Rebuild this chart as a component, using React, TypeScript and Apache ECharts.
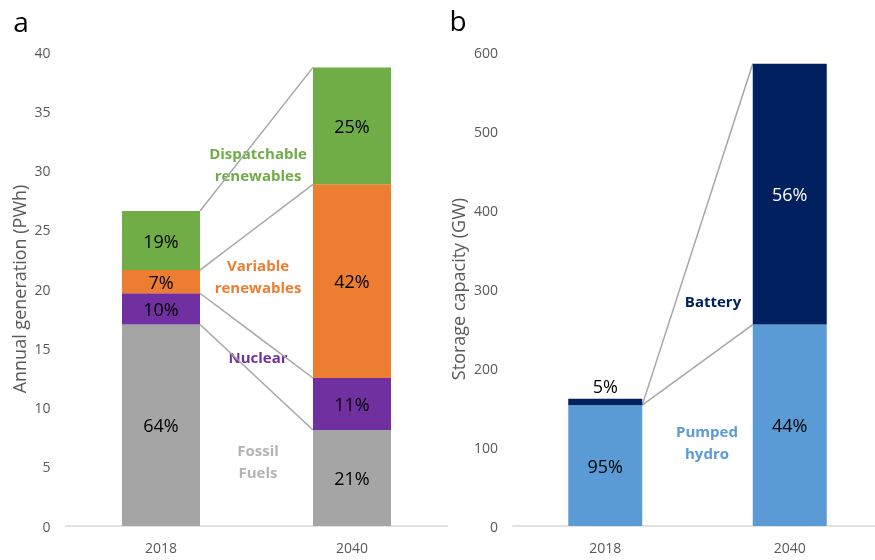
import React, { useEffect, useRef } from "react";
import * as echarts from "echarts";

const years = ["2018", "2040"];

// Panel a: annual generation (PWh)
const fossil = [17.0, 8.1];
const nuclear = [2.64, 4.39];
const variable = [1.96, 16.34];
const dispatchable = [4.98, 9.87];
const fossilPct = ["64%", "21%"];
const nuclearPct = ["10%", "11%"];
const variablePct = ["7%", "42%"];
const dispatchablePct = ["19%", "25%"];
const ticksA = [0, 5, 10, 15, 20, 25, 30, 35, 40];

// Panel b: storage capacity (GW)
const pumped = [153, 255];
const battery = [8, 330];
const pumpedPct = ["95%", "44%"];
const batteryPct = ["5%", "56%"];
const ticksB = [0, 100, 200, 300, 400, 500, 600];

const FONT = "'Open Sans', 'DejaVu Sans', sans-serif";
const BW_A = 78;
const BW_B = 74;

function cum(...arrs: number[][]) {
  return arrs[0].map((_, i) => arrs.reduce((s, a) => s + a[i], 0));
}

export default function App() {
  const ref = useRef<HTMLDivElement>(null);
  useEffect(() => {
    if (!ref.current) return;
    const chart = echarts.init(ref.current, undefined, { renderer: "svg" });

    const topFossil = cum(fossil);
    const topNuclear = cum(fossil, nuclear);
    const topVariable = cum(fossil, nuclear, variable);
    const topDisp = cum(fossil, nuclear, variable, dispatchable);
    const topPumped = cum(pumped);
    const topBattery = cum(pumped, battery);

    const connA = [
      [0, topDisp[0], topDisp[1]],
      [0, topVariable[0], topVariable[1]],
      [0, topNuclear[0], topNuclear[1]],
      [0, topFossil[0], topFossil[1]],
    ];
    const connB = [
      [0, topPumped[0], topBattery[1]],
      [0, topPumped[0], topPumped[1]],
    ];

    const mkConn = (data: number[][], idx: number, bw: number) => ({
      type: "custom",
      xAxisIndex: idx,
      yAxisIndex: idx,
      silent: true,
      z: 1,
      data,
      encode: { x: 0, y: [1, 2] },
      renderItem: (params: any, api: any) => {
        const p1 = api.coord([0, api.value(1)]);
        const p2 = api.coord([1, api.value(2)]);
        return {
          type: "line",
          shape: { x1: p1[0] + bw / 2, y1: p1[1], x2: p2[0] - bw / 2, y2: p2[1] },
          style: { stroke: "#A6A6A6", lineWidth: 1.5 },
        };
      },
    });

    const pctLabel = (arr: string[], color = "#000") => ({
      show: true,
      position: "inside",
      color,
      fontSize: 18,
      fontFamily: FONT,
      formatter: (p: any) => arr[p.dataIndex],
    });

    const mkBar = (name: string, vals: number[], color: string, idx: number, stack: string, bw: number, label: any) => ({
      type: "bar",
      name,
      stack,
      xAxisIndex: idx,
      yAxisIndex: idx,
      barWidth: bw,
      itemStyle: { color },
      label,
      z: 2,
      data: vals,
    });

    const axisLabel = { color: "#595959", fontSize: 14, fontFamily: FONT, margin: 15 };

    const annot = (text: string, x: number, y: number, color: string) => ({
      type: "text",
      x,
      y,
      style: {
        text,
        fill: color,
        font: `bold 15px ${FONT}`,
        align: "center",
        verticalAlign: "middle",
        lineHeight: 22,
      },
    });

    chart.setOption({
      animation: false,
      grid: [
        { left: 65.5, top: 52, width: 382, height: 474 },
        { left: 513, top: 52, width: 369, height: 474 },
      ],
      xAxis: [0, 1].map((i) => ({
        type: "category",
        gridIndex: i,
        data: years,
        axisLine: { lineStyle: { color: "#D9D9D9", width: 1.5 } },
        axisTick: { show: false },
        axisLabel: { color: "#595959", fontSize: 14, fontFamily: FONT, margin: 14 },
      })),
      yAxis: [
        {
          type: "value",
          gridIndex: 0,
          min: ticksA[0],
          max: ticksA[ticksA.length - 1],
          interval: ticksA[1] - ticksA[0],
          splitLine: { show: false },
          axisLine: { show: false },
          axisLabel,
          name: "Annual generation (PWh)",
          nameLocation: "middle",
          nameGap: 38,
          nameTextStyle: { color: "#595959", fontSize: 18, fontFamily: FONT },
        },
        {
          type: "value",
          gridIndex: 1,
          min: ticksB[0],
          max: ticksB[ticksB.length - 1],
          interval: ticksB[1] - ticksB[0],
          splitLine: { show: false },
          axisLine: { show: false },
          axisLabel,
          name: "Storage capacity (GW)",
          nameLocation: "middle",
          nameGap: 46,
          nameTextStyle: { color: "#595959", fontSize: 18, fontFamily: FONT },
        },
      ],
      series: [
        mkConn(connA, 0, BW_A),
        mkConn(connB, 1, BW_B),
        mkBar("Fossil Fuels", fossil, "#A5A5A5", 0, "a", BW_A, pctLabel(fossilPct)),
        mkBar("Nuclear", nuclear, "#7030A0", 0, "a", BW_A, pctLabel(nuclearPct)),
        mkBar("Variable renewables", variable, "#ED7D31", 0, "a", BW_A, pctLabel(variablePct)),
        mkBar("Dispatchable renewables", dispatchable, "#70AD47", 0, "a", BW_A, pctLabel(dispatchablePct)),
        mkBar("Pumped hydro", pumped, "#5B9BD5", 1, "b", BW_B, pctLabel(pumpedPct)),
        {
          ...mkBar("Battery", battery, "#002060", 1, "b", BW_B, pctLabel(batteryPct, "#FFFFFF")),
          data: [
            { value: battery[0], label: { position: "top", color: "#000", distance: 4 } },
            { value: battery[1] },
          ],
        },
      ],
      graphic: [
        { type: "text", x: 21, y: 21, style: { text: "a", fill: "#000", font: `28px ${FONT}`, align: "center", verticalAlign: "middle" } },
        { type: "text", x: 458, y: 20, style: { text: "b", fill: "#000", font: `28px ${FONT}`, align: "center", verticalAlign: "middle" } },
        annot("Dispatchable\nrenewables", 258, 164, "#70AD47"),
        annot("Variable\nrenewables", 258, 276, "#ED7D31"),
        annot("Nuclear", 258, 357, "#7030A0"),
        annot("Fossil\nFuels", 258, 461, "#B4B4B4"),
        annot("Battery", 713, 301, "#002060"),
        annot("Pumped\nhydro", 707, 442, "#5B9BD5"),
      ],
    });
    return () => chart.dispose();
  }, []);
  return <div ref={ref} style={{ position: "fixed", left: 0, top: 0, width: 890, height: 560 }} />;
}
